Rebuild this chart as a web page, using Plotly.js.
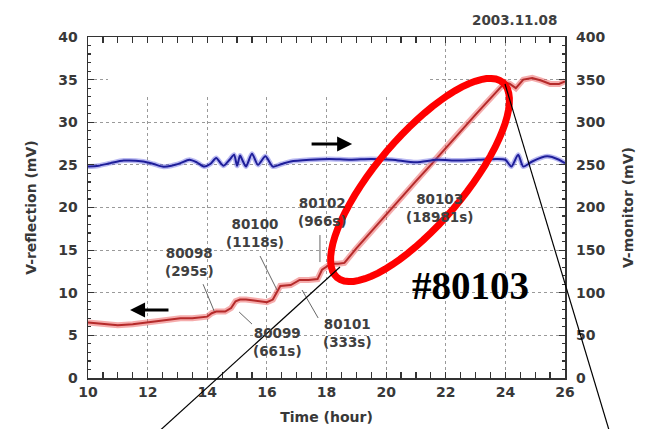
<!DOCTYPE html>
<html><head><meta charset="utf-8">
<script src="https://cdn.plot.ly/plotly-3.0.1.min.js"></script>
<style>html,body{margin:0;padding:0;background:#fff}</style>
</head><body><div id="chart" style="width:646px;height:429px"></div>
<script>
// V-reflection (left axis, mV)
const reflTime = [10, 10.3, 10.7, 11, 11.5, 12, 12.4, 12.8, 13.1, 13.5, 14, 14.15, 14.3, 14.6, 14.8, 14.95, 15.1, 15.3, 15.6, 16.0, 16.2, 16.35, 16.45, 16.8, 17.0, 17.1, 17.4, 17.7, 17.85, 18.0, 18.15, 18.4, 18.6, 19.0, 19.5, 20, 20.5, 21, 21.5, 22, 22.5, 23, 23.5, 24.0, 24.15, 24.35, 24.6, 24.9, 25.2, 25.5, 25.8, 26];
const reflMV = [6.5, 6.4, 6.3, 6.2, 6.3, 6.5, 6.7, 6.9, 7.0, 7.0, 7.2, 7.6, 7.8, 7.8, 8.2, 9.0, 9.2, 9.2, 9.1, 8.9, 9.2, 10.2, 10.8, 10.9, 11.3, 11.5, 11.5, 11.6, 12.7, 13.1, 13.4, 13.4, 13.5, 15.2, 17.2, 19.2, 21.1, 23.1, 25.0, 27.0, 29.0, 30.9, 32.8, 34.7, 34.5, 34.0, 35.0, 35.2, 34.9, 34.5, 34.5, 34.8];

// V-monitor (right axis, mV)
const monTime = [10, 10.35, 10.75, 11.2, 11.85, 12.2, 12.5, 12.8, 13.1, 13.4, 13.65, 13.9, 14.1, 14.3, 14.45, 14.55, 14.75, 14.9, 15.0, 15.1, 15.2, 15.3, 15.5, 15.7, 15.95, 16.2, 16.5, 16.8, 17.45, 18.1, 18.8, 19.5, 20.2, 21, 21.7, 22.4, 23.1, 23.7, 24.0, 24.2, 24.43, 24.6, 24.9, 25.4, 25.8, 26];
const monMV = [248, 249, 252, 255, 254, 251, 248, 249, 252, 256, 253, 248, 251, 258, 252, 249, 256, 262, 249, 261, 254, 248, 263, 250, 260, 248, 251, 254, 256, 257, 256, 257, 256, 253, 256, 255, 256, 257, 256, 248, 262, 248, 254, 260, 256, 252];

// Shot numbers and their durations
const shotIds = ['80098', '80099', '80100', '80101', '80102', '80103'];
const shotDurations = ['(295s)', '(661s)', '(1118s)', '(333s)', '(966s)', '(18981s)'];

// Axis ticks
const xTicks = [10, 12, 14, 16, 18, 20, 22, 24, 26];
const leftTicks = [0, 5, 10, 15, 20, 25, 30, 35, 40];
const rightTicks = [0, 50, 100, 150, 200, 250, 300, 350, 400];

// Label placement (hours, mV) and leader lines for each shot
const labelPos = [[13.42, 13.6], [16.34, 4.2], [15.6, 17.0], [18.69, 5.3], [17.85, 19.5], [21.8, 19.9]];
const leaders = [
  [13.86, 11.0, 14.23, 7.86],
  [15.07, 7.74, 15.50, 6.33],
  [15.77, 14.31, 16.34, 10.32],
  [17.18, 10.32, 17.72, 7.04],
  [17.78, 16.77, 17.78, 13.6],
  null
];

const ML = 88, MR = 81, MT = 37, MB = 51, W = 646, H = 429;
const PW = W - ML - MR, PH = H - MT - MB;
const fx = px => (px - ML) / PW;
const fy = py => (H - MB - py) / PH;

// Highlight ellipse around the #80103 ramp
function ellipsePath(cx, cy, a, b, ux, uy) {
  const n = Math.hypot(ux, uy); ux /= n; uy /= n;
  const vx = -uy, vy = ux;
  let d = '';
  for (let i = 0; i <= 72; i++) {
    const t = i / 72 * 2 * Math.PI;
    const px = cx + a * Math.cos(t) * ux + b * Math.sin(t) * vx;
    const py = cy + a * Math.cos(t) * uy + b * Math.sin(t) * vy;
    d += (i ? 'L' : 'M') + fx(px).toFixed(4) + ',' + fy(py).toFixed(4);
  }
  return d + 'Z';
}

const gray = '#383838';
const fam = 'DejaVu Sans, Verdana, sans-serif';
const baseFont = {family: fam, size: 14, color: gray, weight: 'bold'};
const labelFont = {family: fam, size: 13.5, color: '#404040', weight: 'bold'};

const traces = [
  {x: monTime, y: monMV, yaxis: 'y2', mode: 'lines', line: {color: 'rgba(100,100,225,0.45)', width: 5, shape: 'spline', smoothing: 0.7}, hoverinfo: 'skip'},
  {x: monTime, y: monMV, yaxis: 'y2', mode: 'lines', line: {color: '#1e1e9a', width: 2, shape: 'spline', smoothing: 0.7}, hoverinfo: 'skip'},
  {x: reflTime, y: reflMV, mode: 'lines', line: {color: 'rgba(235,90,90,0.5)', width: 6}, hoverinfo: 'skip'},
  {x: reflTime, y: reflMV, mode: 'lines', line: {color: '#b52a2a', width: 2}, hoverinfo: 'skip'}
];

const shapes = [
  // blank area at top of plot
  {type: 'rect', xref: 'x', yref: 'y', x0: 10.67, x1: 21.47, y0: 32.96, y1: 39.4,
   fillcolor: '#ffffff', line: {width: 0}, layer: 'between'}
];
leaders.forEach(l => {
  if (!l) return;
  shapes.push({type: 'line', xref: 'x', yref: 'y', x0: l[0], y0: l[1], x1: l[2], y1: l[3],
    line: {color: '#666', width: 1}});
});
shapes.push({type: 'path', xref: 'paper', yref: 'paper',
  path: ellipsePath(420, 180, 128, 44, 170, -200), line: {color: '#ff0000', width: 7}});
shapes.push({type: 'line', xref: 'paper', yref: 'paper', x0: fx(340), y0: fy(267), x1: fx(155), y1: fy(435),
  line: {color: '#000', width: 1.2}});
shapes.push({type: 'line', xref: 'paper', yref: 'paper', x0: fx(505), y0: fy(84), x1: fx(612), y1: fy(440),
  line: {color: '#000', width: 1.2}});

const annotations = shotIds.map((id, i) => ({
  xref: 'x', yref: 'y', x: labelPos[i][0], y: labelPos[i][1], xanchor: 'center', yanchor: 'middle',
  text: id + '<br>' + shotDurations[i], showarrow: false, font: labelFont, align: 'center'
}));
annotations.push(
  {xref: 'x', yref: 'y', x: 11.41, y: 7.98, ax: 12.75, ay: 7.98, axref: 'x', ayref: 'y',
   showarrow: true, arrowhead: 2, arrowsize: 1, arrowwidth: 3, arrowcolor: '#000', text: ''},
  {xref: 'x', yref: 'y', x: 18.86, y: 27.45, ax: 17.45, ay: 27.45, axref: 'x', ayref: 'y',
   showarrow: true, arrowhead: 2, arrowsize: 1, arrowwidth: 3, arrowcolor: '#000', text: ''},
  {xref: 'paper', yref: 'paper', x: fx(470), y: fy(285), xanchor: 'center', yanchor: 'middle',
   showarrow: false, text: '#80103',
   font: {family: 'Liberation Serif, Times New Roman, serif', size: 39, color: '#000', weight: 'bold'}},
  {xref: 'paper', yref: 'paper', x: fx(559), y: fy(20), xanchor: 'right', yanchor: 'middle', showarrow: false,
   text: '2003.11.08', font: {family: fam, size: 13.5, color: '#404040', weight: 'bold'}}
);

const axisCommon = {
  showline: true, linecolor: '#333', linewidth: 1.5, ticks: 'inside', ticklen: 6, tickwidth: 1.2,
  tickcolor: '#333', mirror: 'allticks', zeroline: false, tickfont: baseFont,
  gridcolor: '#9a9a9a', griddash: 'dot', gridwidth: 1
};

const layout = {
  width: W, height: H, margin: {l: ML, r: MR, t: MT, b: MB, pad: 0},
  paper_bgcolor: '#fff', plot_bgcolor: '#fff', showlegend: false,
  font: baseFont,
  xaxis: Object.assign({}, axisCommon, {
    range: [10, 26], tickvals: xTicks, ticktext: xTicks.map(String), ticklabelstandoff: 1,
    minor: {dtick: 0.5, tick0: 10, ticks: 'inside', ticklen: 3, tickcolor: '#333', showgrid: false},
    title: {text: 'Time (hour)', font: baseFont, standoff: 13}
  }),
  yaxis: Object.assign({}, axisCommon, {
    range: [0, 40], tickvals: leftTicks, ticktext: leftTicks.map(String), ticklabelstandoff: 6,
    minor: {dtick: 1, tick0: 0, ticks: 'inside', ticklen: 3, tickcolor: '#333', showgrid: false},
    title: {text: 'V-reflection (mV)', font: baseFont, standoff: 18}
  }),
  yaxis2: {
    overlaying: 'y', side: 'right', range: [0, 400], tickvals: rightTicks, ticktext: rightTicks.map(String),
    showgrid: false, zeroline: false, ticks: '', showline: false, tickfont: baseFont, ticklabelstandoff: 10,
    title: {text: 'V-monitor (mV)', font: baseFont, standoff: 18}
  },
  shapes: shapes,
  annotations: annotations
};

Plotly.newPlot('chart', traces, layout, {staticPlot: true, displayModeBar: false});
</script>
</body></html>
